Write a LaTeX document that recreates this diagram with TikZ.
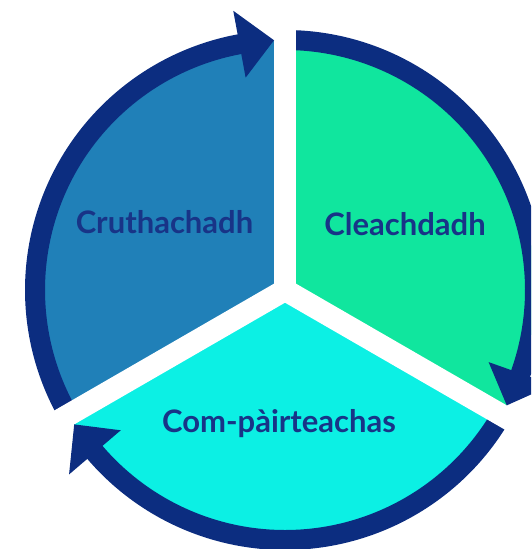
\documentclass[tikz,border=0pt]{standalone}
\usepackage{fontspec}
\setmainfont{Lato}
\definecolor{navy}{RGB}{12,45,128}
\definecolor{txt}{RGB}{24,52,135}
\definecolor{sblue}{RGB}{32,128,184}
\definecolor{sgreen}{RGB}{16,230,158}
\definecolor{scyan}{RGB}{12,240,228}
\begin{document}
\begin{tikzpicture}[x=1pt,y=1pt,
  band/.style={draw=navy,line width=20pt},
  gapline/.style={draw=white,line width=22pt},
  headtri/.style={fill=navy},
  lbl/.style={text=txt,font=\fontsize{31}{37}\selectfont\bfseries,anchor=base,inner sep=0pt}]
\useasboundingbox (0,0) rectangle (531,-549);
\clip (0,0) rectangle (531,-549);
\coordinate (C) at (285,-290);
\begin{scope}[shift={(C)}]
  % sectors
  \fill[sblue] (0,0) -- (90:250) arc[start angle=90,end angle=210,radius=250] -- cycle;
  \fill[sgreen] (0,0) -- (-30:250) arc[start angle=-30,end angle=90,radius=250] -- cycle;
  \fill[scyan] (0,0) -- (210:250) arc[start angle=210,end angle=330,radius=250] -- cycle;
  % bands
  \draw[band] (210:250) arc[start angle=210,end angle=100,radius=250];
  \draw[band] (90:250) arc[start angle=90,end angle=-20,radius=250];
  \draw[band] (-30:250) arc[start angle=-30,end angle=-140,radius=250];
  % gaps
  \draw[gapline] (0,0) -- (90:330);
  \draw[gapline] (0,0) -- (-30:330);
  \draw[gapline] (0,0) -- (210:330);
  \fill[white] (30:12.8) -- (150:12.8) -- (270:12.8) -- cycle;
  % arrow heads
  \fill[headtri] (100.5:284) -- (92.52:250) -- (100.5:216) -- cycle;
  \fill[headtri] (-19.5:284) -- (-27.48:250) -- (-19.5:216) -- cycle;
  \fill[headtri] (220.5:284) -- (212.52:250) -- (220.5:216) -- cycle;
\end{scope}
\node[lbl] (cru) at (164.5,-233) {Cruthachadh};
\node[lbl] (cle) at (405,-235) {Cleachdadh};
\node[lbl] (com) at (279,-432.7) {Com-pàirteachas};
\end{tikzpicture}
\end{document}
